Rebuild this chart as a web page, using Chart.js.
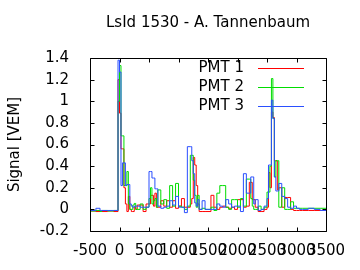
<!DOCTYPE html>
<html>
<head>
<meta charset="utf-8">
<title>LsId 1530 - A. Tannenbaum</title>
<script src="https://cdn.jsdelivr.net/npm/chart.js@4/dist/chart.umd.min.js"></script>
<style>
    html, body { margin: 0; padding: 0; background: #fff; }
    #wrap { width: 360px; height: 270px; }
</style>
</head>
<body>
<div id="wrap"><canvas id="signalChart" width="360" height="270"></canvas></div>
<script>
// bin start times (ns), shared by the three PMT traces
const timeBins = [
    -500, -400, -330, -300, -200, -100, -25,
    0, 25, 50, 75, 100, 125, 150, 175, 200, 225, 250, 275, 300,
    350, 400, 450, 500,
    525, 550, 575, 600, 625, 650,
    700, 750, 800, 850, 900, 950, 1000, 1050, 1100, 1150,
    1200, 1225, 1250, 1275, 1300, 1325,
    1350, 1400, 1450, 1500, 1550, 1600, 1650, 1700, 1750, 1800, 1850, 1900, 1950, 2000, 2050, 2100, 2150, 2200,
    2225, 2250, 2275, 2300,
    2350, 2400, 2450, 2500,
    2525, 2550, 2575, 2600, 2625, 2650, 2675, 2700,
    2750, 2800, 2850, 2900, 2950, 3000, 3050, 3100,
    3200, 3300, 3400, 3500
];

const pmt1 = [
    -0.02, -0.015, -0.02, -0.015, -0.02, -0.015, -0.02,
    1.2, 0.89, 0.56, 0.56, 0.2, 0.05, -0.02, 0.12, 0.0, -0.02, -0.02, 0.02, 0.0,
    0.04, 0.04, -0.02, 0.05,
    0.05, 0.13, 0.13, 0.03, 0.15, 0.02,
    0.02, 0.08, 0.03, 0.08, 0.02, 0.08, 0.01, 0.03, 0.1, 0.02,
    0.02, 0.05, 0.1, 0.48, 0.41, 0.22,
    0.05, -0.02, -0.02, -0.02, -0.02, 0.13, 0.02, 0.0, 0.02, 0.03, 0.02, 0.01, 0.02, 0.0, 0.09, 0.09, 0.02, 0.03,
    0.25, 0.25, 0.09, 0.09,
    0.02, -0.02, -0.02, 0.0,
    0.02, 0.34, 0.2, 0.9, 0.85, 0.45, 0.45, 0.18,
    0.2, 0.02, 0.11, 0.11, 0.0, -0.01, -0.01, -0.01,
    -0.01, -0.01, -0.01, -0.01
];

const pmt2 = [
    -0.01, -0.015, -0.01, -0.02, -0.01, -0.015, -0.01,
    1.0, 1.33, 0.68, 0.68, 0.22, 0.22, 0.35, 0.05, 0.0, 0.0, 0.04, 0.055, 0.0,
    0.0, 0.05, 0.0, 0.02,
    0.1, 0.2, 0.05, 0.08, 0.1, 0.02,
    0.18, 0.05, 0.09, 0.01, 0.22, 0.03, 0.24, 0.03, 0.02, 0.0,
    0.03, 0.5, 0.5, 0.27, 0.13, 0.02,
    0.13, 0.0, 0.01, 0.0, 0.0, 0.02, -0.01, 0.15, 0.22, 0.22, 0.02, 0.0, 0.09, 0.09, 0.02, 0.1, 0.03, 0.28,
    0.28, 0.1, 0.03, 0.0,
    0.0, 0.03, 0.0, 0.02,
    0.16, 0.16, 0.4, 1.21, 0.84, 0.3, 0.45, 0.45,
    0.02, 0.2, 0.0, 0.0, 0.07, 0.01, 0.01, 0.01,
    0.01, 0.01, 0.01, 0.01
];

const pmt3 = [
    -0.01, -0.01, 0.01, -0.01, -0.01, -0.01, -0.01,
    1.38, 1.27, 0.22, 0.43, 0.43, 0.22, 0.23, 0.23, 0.05, 0.03, 0.02, 0.03, 0.03,
    0.03, 0.02, 0.02, 0.02,
    0.35, 0.35, 0.29, 0.29, 0.19, 0.19,
    0.03, 0.01, 0.02, 0.03, 0.08, 0.04, 0.12, 0.02, 0.02, -0.03,
    0.58, 0.58, 0.45, 0.33, 0.06, 0.03,
    0.09, 0.0, 0.08, 0.0, 0.0, 0.0, 0.0, 0.05, 0.03, 0.02, 0.09, 0.05, 0.02, 0.03, 0.03, -0.02, 0.33, 0.15,
    0.15, 0.3, 0.3, 0.05,
    0.09, -0.01, 0.0, 0.03,
    0.1, 0.41, 0.41, 1.01, 0.84, 0.3, 0.17, 0.17,
    0.24, 0.12, 0.1, 0.02, 0.01, 0.03, 0.01, 0.0,
    0.0, 0.01, 0.0, -0.01
];

const seriesNames = ['PMT 1', 'PMT 2', 'PMT 3'];
const seriesColors = ['#ff0000', '#00dd00', '#2a4fff'];
const chartTitle = 'LsId 1530 - A. Tannenbaum';

const xTicks = { min: -500, max: 3500, step: 500 };
const yTicks = { min: -0.2, max: 1.4, step: 0.2 };

Chart.defaults.font.family = "'DejaVu Sans', sans-serif";
Chart.defaults.font.size = 15;
Chart.defaults.color = '#000';

function toPoints(values) {
    return timeBins.map((t, i) => ({ x: t, y: values[i] }));
}

// gnuplot style box with inward ticks on all four sides, the key and the title
const frameAndKey = {
    id: 'frameAndKey',
    afterDatasetsDraw(chart) {
        const { ctx, chartArea: a, scales } = chart;
        const L = Math.round(a.left) + 0.5, R = Math.round(a.right) + 0.5;
        const T = Math.round(a.top) + 0.5, B = Math.round(a.bottom) + 0.5;
        const tick = 4;
        ctx.save();
        ctx.strokeStyle = '#000';
        ctx.lineWidth = 1;
        ctx.beginPath();
        ctx.rect(L, T, R - L, B - T);
        scales.x.ticks.forEach((t, i) => {
            const px = Math.round(scales.x.getPixelForTick(i)) + 0.5;
            ctx.moveTo(px, B); ctx.lineTo(px, B - tick);
            ctx.moveTo(px, T); ctx.lineTo(px, T + tick);
        });
        scales.y.ticks.forEach((t, i) => {
            const py = Math.round(scales.y.getPixelForTick(i)) + 0.5;
            ctx.moveTo(L, py); ctx.lineTo(L + tick, py);
            ctx.moveTo(R, py); ctx.lineTo(R - tick, py);
        });
        ctx.stroke();

        ctx.font = "15px 'DejaVu Sans', sans-serif";
        ctx.fillStyle = '#000';
        ctx.textBaseline = 'middle';
        ctx.textAlign = 'center';
        ctx.fillText(chartTitle, (a.left + a.right) / 2, 23);

        ctx.textAlign = 'right';
        chart.data.datasets.forEach((ds, i) => {
            const yy = Math.round(a.top + 10 + i * 19) + 0.5;
            ctx.fillStyle = '#000';
            ctx.fillText(ds.label, a.right - 82, yy);
            ctx.strokeStyle = ds.borderColor;
            ctx.beginPath();
            ctx.moveTo(a.right - 68, yy);
            ctx.lineTo(a.right - 22, yy);
            ctx.stroke();
        });
        ctx.restore();
    }
};

new Chart(document.getElementById('signalChart'), {
    type: 'line',
    data: {
        datasets: [pmt1, pmt2, pmt3].map((vals, i) => ({
            label: seriesNames[i],
            data: toPoints(vals),
            borderColor: seriesColors[i],
            borderWidth: 1,
            pointRadius: 0,
            stepped: 'after',
            fill: false,
            order: 3 - i
        }))
    },
    options: {
        responsive: false,
        animation: false,
        layout: { padding: { left: 0, right: 34, top: 58, bottom: 0 } },
        plugins: {
            legend: { display: false },
            tooltip: { enabled: false },
            title: { display: false }
        },
        scales: {
            x: {
                type: 'linear',
                min: xTicks.min,
                max: xTicks.max,
                grid: { display: false },
                border: { display: false },
                ticks: {
                    stepSize: xTicks.step,
                    autoSkip: false,
                    maxRotation: 0,
                    minRotation: 0,
                    padding: 3,
                    color: '#000',
                    callback: v => String(v)
                },
                afterFit(scale) { scale.height = 39; }
            },
            y: {
                min: yTicks.min,
                max: yTicks.max,
                grid: { display: false },
                border: { display: false },
                ticks: {
                    stepSize: yTicks.step,
                    padding: 13,
                    color: '#000',
                    callback: v => String(Math.round(v * 10) / 10)
                },
                title: {
                    display: true,
                    text: 'Signal [VEM]',
                    color: '#000',
                    font: { size: 15 },
                    padding: { top: 6, bottom: 0 }
                },
                afterFit(scale) { scale.width = 90; }
            }
        }
    },
    plugins: [frameAndKey]
});
</script>
</body>
</html>
